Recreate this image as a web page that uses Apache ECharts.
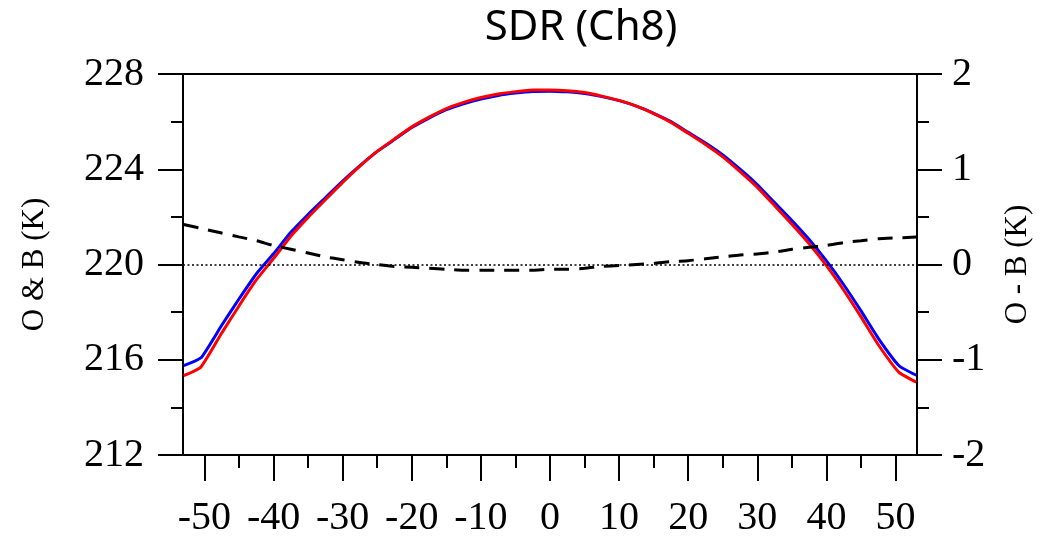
<!DOCTYPE html>
<html>
<head>
<meta charset="utf-8">
<script src="https://cdn.jsdelivr.net/npm/echarts@6/dist/echarts.min.js"></script>
<style>html,body{margin:0;padding:0;background:#fff}#c{width:1042px;height:538px}</style>
</head>
<body>
<div id="c"></div>
<script>
var titleText = 'SDR (Ch8)';
var leftName = 'O & B (K)';
var rightName = 'O - B (K)';
var lat = [-53, -50.5, -47.5, -45, -42.5, -40, -37.5, -35, -32.5, -30, -27.5, -25, -22.5, -20, -17.5, -15, -12.5, -10, -7.5, -5, -2.5, 0, 2.5, 5, 7.5, 10, 12.5, 15, 17.5, 20, 22.5, 25, 27.5, 30, 32.5, 35, 37.5, 40, 42.5, 45, 47.5, 50.5, 53];
var obs = [215.75, 216.08, 217.45, 218.55, 219.60, 220.45, 221.35, 222.10, 222.80, 223.50, 224.15, 224.75, 225.25, 225.75, 226.15, 226.50, 226.75, 226.95, 227.10, 227.20, 227.27, 227.28, 227.25, 227.18, 227.05, 226.88, 226.65, 226.35, 226.00, 225.55, 225.10, 224.60, 224.00, 223.35, 222.60, 221.85, 221.05, 220.15, 219.15, 218.05, 216.90, 215.75, 215.35];
var bkg = [215.33, 215.70, 217.12, 218.26, 219.35, 220.25, 221.19, 221.98, 222.72, 223.45, 224.13, 224.75, 225.27, 225.78, 226.19, 226.55, 226.81, 227.01, 227.16, 227.26, 227.33, 227.33, 227.30, 227.22, 227.07, 226.89, 226.65, 226.34, 225.97, 225.51, 225.04, 224.52, 223.90, 223.24, 222.47, 221.69, 220.87, 219.95, 218.92, 217.80, 216.63, 215.47, 215.06];
var omb = [0.42, 0.38, 0.33, 0.29, 0.25, 0.20, 0.16, 0.12, 0.08, 0.05, 0.02, 0.00, -0.02, -0.03, -0.04, -0.05, -0.06, -0.06, -0.06, -0.06, -0.06, -0.05, -0.05, -0.04, -0.02, -0.01, 0.00, 0.01, 0.03, 0.04, 0.06, 0.08, 0.10, 0.11, 0.13, 0.16, 0.18, 0.20, 0.23, 0.25, 0.27, 0.28, 0.29];
var xMajor = [-50, -40, -30, -20, -10, 0, 10, 20, 30, 40, 50];
var xMinor = [-45, -35, -25, -15, -5, 5, 15, 25, 35, 45];

function pairs(ys) { return lat.map(function (x, i) { return [x, ys[i]]; }); }

var serif = 'Liberation Serif';
function axLine() { return { show: true, onZero: false, lineStyle: { color: '#000', width: 2 } }; }
var chart = echarts.init(document.getElementById('c'), null, { renderer: 'canvas' });
chart.setOption({
  animation: false,
  backgroundColor: '#fff',
  title: {
    text: titleText, left: 576, top: 2, textAlign: 'center',
    textStyle: { fontFamily: 'Noto Sans', fontWeight: 'normal', fontSize: 42, color: '#000' }
  },
  grid: { left: 183, right: 125, top: 74, bottom: 79, containLabel: false },
  xAxis: [
    {
      type: 'value', min: -53.1, max: 53.1, position: 'bottom',
      axisLine: axLine(),
      axisTick: { show: true, inside: false, length: 26, customValues: xMajor, lineStyle: { color: '#000', width: 2 } },
      axisLabel: { show: true, customValues: xMajor, margin: 43, fontFamily: serif, fontSize: 40, color: '#000' },
      splitLine: { show: false }
    },
    {
      type: 'value', min: -53.1, max: 53.1, position: 'bottom',
      axisLine: { show: false, onZero: false },
      axisTick: { show: true, inside: false, length: 13, customValues: xMinor, lineStyle: { color: '#000', width: 2 } },
      axisLabel: { show: false },
      splitLine: { show: false }
    },
    {
      type: 'value', min: -53.1, max: 53.1, position: 'top',
      axisLine: axLine(),
      axisTick: { show: false },
      axisLabel: { show: false },
      splitLine: { show: false }
    }
  ],
  yAxis: [
    {
      type: 'value', min: 212, max: 228, interval: 4, position: 'left',
      name: leftName, nameLocation: 'middle', nameGap: 133, nameRotate: 90,
      nameTextStyle: { fontFamily: serif, fontSize: 31, color: '#000' },
      axisLine: axLine(),
      axisTick: { show: true, inside: false, length: 25, lineStyle: { color: '#000', width: 2 } },
      minorTick: { show: true, splitNumber: 2, length: 12, lineStyle: { color: '#000', width: 2 } },
      axisLabel: { margin: 39, fontFamily: serif, fontSize: 40, color: '#000' },
      splitLine: { show: false }, minorSplitLine: { show: false }
    },
    {
      type: 'value', min: -2, max: 2, interval: 1, position: 'right',
      name: rightName, nameLocation: 'middle', nameGap: 85, nameRotate: 90,
      nameTextStyle: { fontFamily: serif, fontSize: 31, color: '#000' },
      axisLine: axLine(),
      axisTick: { show: true, inside: false, length: 25, lineStyle: { color: '#000', width: 2 } },
      minorTick: { show: true, splitNumber: 2, length: 12, lineStyle: { color: '#000', width: 2 } },
      axisLabel: { margin: 35, fontFamily: serif, fontSize: 40, color: '#000' },
      splitLine: { show: false }, minorSplitLine: { show: false }
    }
  ],
  series: [
    {
      name: 'O', type: 'line', xAxisIndex: 0, yAxisIndex: 0, data: pairs(obs),
      showSymbol: false, smooth: 0.15, lineStyle: { color: '#0000ff', width: 3 }, z: 3
    },
    {
      name: 'B', type: 'line', xAxisIndex: 0, yAxisIndex: 0, data: pairs(bkg),
      showSymbol: false, smooth: 0.15, lineStyle: { color: '#ff0000', width: 3 }, z: 4
    },
    {
      name: 'O-B', type: 'line', xAxisIndex: 0, yAxisIndex: 1, data: pairs(omb),
      showSymbol: false, smooth: 0.2, lineStyle: { color: '#000', width: 3, type: [15, 10] }, z: 5,
      markLine: {
        silent: true, symbol: ['none', 'none'], label: { show: false },
        lineStyle: { color: '#000', width: 1.5, type: [2, 2.5] },
        data: [{ yAxis: 0 }]
      }
    }
  ]
});
</script>
</body>
</html>
